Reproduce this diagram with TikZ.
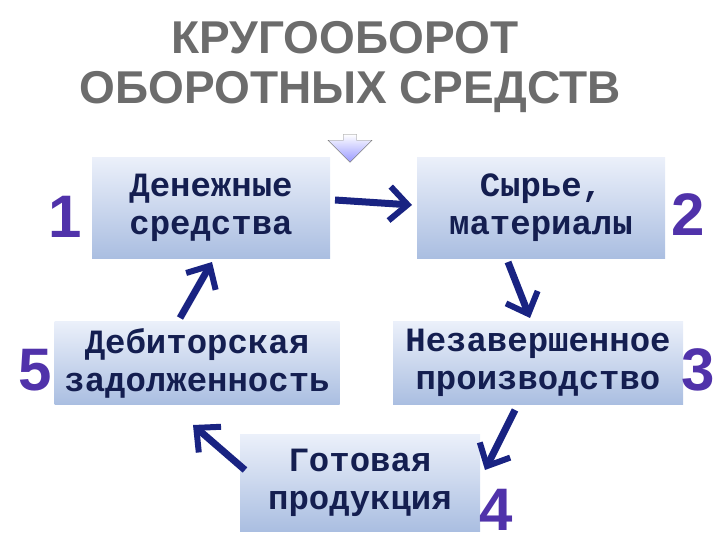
\documentclass[tikz,border=0pt]{standalone}
\usepackage{fontspec}
\setmainfont{Liberation Sans}
\newfontfamily\boxfont{Liberation Mono}
\usetikzlibrary{arrows.meta,shadows,shapes.arrows}
\definecolor{boxtop}{RGB}{235,240,250}
\definecolor{boxbot}{RGB}{170,190,225}
\definecolor{txt}{RGB}{20,30,80}
\definecolor{num}{RGB}{80,50,170}
\definecolor{arr}{RGB}{25,35,130}
\tikzset{
  stagebox/.style={draw=none,top color=boxtop,bottom color=boxbot,inner sep=0pt,
    font=\boxfont\bfseries\fontsize{34}{38}\selectfont,text=txt,align=center},
  numlabel/.style={font=\bfseries\fontsize{60}{60}\selectfont,text=num},
  flow/.style={draw=arr,line width=7pt,-{Straight Barb[length=18pt,width=34pt,line width=6pt]}},
  titlefont/.style={font=\bfseries\fontsize{46}{48}\selectfont,text=gray!85!black}
}
\begin{document}
\begin{tikzpicture}[x=1pt,y=-1pt]
\useasboundingbox (0,0) rectangle (720,540);
\node[titlefont] (t1) at (345,38) {КРУГООБОРОТ};
\node[titlefont] (t2) at (350,92) {ОБОРОТНЫХ СРЕДСТВ};
\node[single arrow,shape border rotate=270,draw=gray,top color=white,bottom color=blue!40,minimum width=44pt,minimum height=28pt,single arrow head extend=10pt,inner sep=4pt] (da) at (350,145) {};
\node[stagebox,minimum width=238pt,minimum height=100pt] (b1) at (211,208) {Денежные\\средства};
\node[stagebox,minimum width=248pt,minimum height=100pt] (b2) at (541,208) {Сырье,\\материалы};
\node[stagebox,minimum width=290pt,minimum height=83pt] (b3) at (538,363) {Незавершенное\\производство};
\node[stagebox,minimum width=285pt,minimum height=83pt] (b5) at (197,363) {Дебиторская\\задолженность};
\node[stagebox,minimum width=240pt,minimum height=97pt] (b4) at (360,483) {Готовая\\продукция};
\node[numlabel] (n1) at (65,217) {1};
\node[numlabel] (n2) at (688,215) {2};
\node[numlabel] (n3) at (698,370) {3};
\node[numlabel] (n4) at (496,510) {4};
\node[numlabel] (n5) at (35,370) {5};
\coordinate (a1s) at (335,200); \coordinate (a1e) at (412,205);
\coordinate (a2s) at (508,262); \coordinate (a2e) at (530,318);
\coordinate (a3s) at (515,410); \coordinate (a3e) at (485,470);
\coordinate (a4s) at (245,470); \coordinate (a4e) at (193,425);
\coordinate (a5s) at (180,318); \coordinate (a5e) at (212,262);
\draw[flow] (a1s) -- (a1e);
\draw[flow] (a2s) -- (a2e);
\draw[flow] (a3s) -- (a3e);
\draw[flow] (a4s) -- (a4e);
\draw[flow] (a5s) -- (a5e);
\end{tikzpicture}
\end{document}
